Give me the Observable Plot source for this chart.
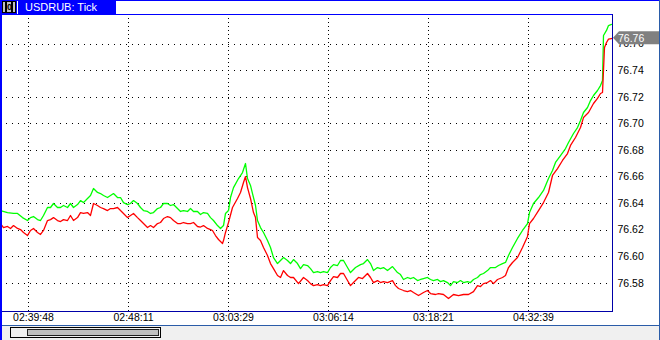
<!DOCTYPE html>
<html>
<head>
<meta charset="utf-8">
<script src="https://cdn.jsdelivr.net/npm/d3@7"></script>
<script src="https://cdn.jsdelivr.net/npm/@observablehq/plot@0.6"></script>
<style>
  html, body { margin: 0; padding: 0; background: #fff; }
  #wrap { position: relative; width: 660px; height: 340px; background: #fff; overflow: hidden; font-family: "Liberation Sans", Arial, sans-serif; }
  #chart { position: absolute; left: 0; top: 0; }
  .abs { position: absolute; box-sizing: border-box; }
  #chart svg [aria-label="y-grid"] line, #chart svg [aria-label="x-grid"] line, #chart svg [aria-label="frame"] { shape-rendering: crispEdges; }
</style>
</head>
<body>
<div id="wrap">
  <div id="chart"></div>
  <!-- title strip -->
  <div class="abs" style="left:0;top:0;width:660px;height:1px;background:#0000ff"></div>
  <div class="abs" style="left:0;top:0;width:116px;height:14px;background:#0000ff"></div>
  <div class="abs" style="left:2px;top:1px;width:14px;height:12px;background:#c0c0c0;border:1px solid #000"></div>
  <div class="abs" style="left:5px;top:2px;width:8px;height:10px;background:#c0c0c0;border-left:2px solid #000;border-right:2px solid #000;font:bold 9px 'Liberation Sans',Arial,sans-serif;line-height:10px;text-align:center;color:#000">0</div>
  <div class="abs" style="left:17px;top:1px;width:1px;height:13px;background:#fff"></div>
  <div class="abs" id="title" style="left:25px;top:0px;height:14px;line-height:14px;color:#fff;font-size:11px">USDRUB: Tick</div>
  <!-- outer borders -->
  <div class="abs" style="left:0;top:0;width:2px;height:340px;background:#0000ff"></div>
  <div class="abs" style="left:659px;top:0;width:1px;height:340px;background:#2a5ca8"></div>
  <!-- bottom panel with scrollbar -->
  <div class="abs" style="left:2px;top:325px;width:657px;height:15px;background:#f0f0f0;border-top:1px solid #2a5ca8"></div>
  <div class="abs" style="left:10px;top:327px;width:151px;height:11px;background:#f0f0f0;border:1px solid #000"></div>
  <div class="abs" style="left:27px;top:329px;width:132px;height:7px;background:#c0c0c0;border:1px solid #202020"></div>
</div>
<script>
// ---- data ----
const timeLabels = ["02:39:48", "02:48:11", "03:03:29", "03:06:14", "03:18:21", "04:32:39"];
const tickIdx = [28, 128, 228, 328, 428, 528];
const yTicks = [76.58, 76.60, 76.62, 76.64, 76.66, 76.68, 76.70, 76.72, 76.74, 76.76];
const yDomain = [76.5587, 76.7823];
const xDomain = [0, 612];

const askIdx = [0,7,13,17,22,27,30,33,37,40,43,47,50,53,57,60,63,67,70,73,77,80,83,87,90,93,97,100,103,107,110,113,117,120,123,127,130,133,137,140,143,147,150,153,157,160,163,167,170,173,177,180,183,187,190,193,197,200,203,207,210,213,217,220,223,225,228,230,233,238,242,245,247,250,252,255,257,260,263,267,270,273,277,280,283,287,290,293,297,300,303,307,310,313,317,320,323,327,330,333,337,340,343,347,350,355,360,363,367,370,373,377,380,383,387,392,397,400,403,407,410,413,417,420,423,427,430,433,437,440,443,447,450,453,457,460,463,467,470,473,477,480,483,487,490,495,498,502,505,508,512,517,522,527,529,533,538,543,548,552,555,560,565,568,573,577,580,583,587,590,593,597,600,602,603,606,608,611];
const askVal = [76.6347,76.6332,76.6325,76.6325,76.6294,76.6272,76.6294,76.6302,76.6279,76.6272,76.6310,76.6370,76.6370,76.6400,76.6370,76.6370,76.6385,76.6370,76.6400,76.6370,76.6392,76.6422,76.6407,76.6438,76.6460,76.6513,76.6483,76.6475,76.6460,76.6445,76.6460,76.6475,76.6445,76.6445,76.6407,76.6392,76.6400,76.6422,76.6400,76.6370,76.6347,76.6340,76.6325,76.6332,76.6362,76.6370,76.6400,76.6400,76.6385,76.6392,76.6362,76.6340,76.6347,76.6340,76.6362,76.6340,76.6340,76.6317,76.6332,76.6325,76.6294,76.6272,76.6234,76.6212,76.6234,76.6325,76.6347,76.6445,76.6520,76.6588,76.6633,76.6701,76.6588,76.6536,76.6475,76.6385,76.6272,76.6219,76.6182,76.6121,76.6069,76.5993,76.5948,76.5971,76.5993,76.5971,76.5948,76.5978,76.5948,76.5910,76.5940,76.5933,76.5910,76.5880,76.5888,76.5880,76.5888,76.5880,76.5918,76.5940,76.5933,76.5971,76.5971,76.5918,76.5880,76.5918,76.5940,76.5948,76.5978,76.5948,76.5895,76.5918,76.5910,76.5918,76.5895,76.5925,76.5880,76.5865,76.5828,76.5843,76.5835,76.5843,76.5820,76.5828,76.5835,76.5843,76.5828,76.5820,76.5828,76.5812,76.5820,76.5805,76.5782,76.5812,76.5805,76.5820,76.5805,76.5812,76.5805,76.5828,76.5843,76.5865,76.5873,76.5895,76.5918,76.5918,76.5933,76.5948,76.5956,76.6008,76.6069,76.6137,76.6197,76.6249,76.6332,76.6400,76.6445,76.6498,76.6588,76.6648,76.6709,76.6761,76.6814,76.6859,76.6927,76.6972,76.7025,76.7085,76.7123,76.7175,76.7213,76.7251,76.7288,76.7326,76.7665,76.7703,76.7740,76.7748];

const bidIdx = [0,3,7,10,13,17,20,23,27,30,33,37,40,43,47,50,53,57,60,63,67,70,73,77,80,83,87,90,93,97,100,103,107,110,113,117,120,123,127,130,133,137,140,143,147,150,153,157,160,163,167,170,173,177,180,183,187,190,193,197,200,203,207,210,212,215,218,220,222,223,225,228,232,237,240,243,245,247,250,253,255,257,260,263,267,270,273,277,280,283,287,290,293,298,303,307,310,313,317,320,323,327,330,333,337,340,343,347,350,353,358,362,367,370,373,377,380,383,387,392,395,398,403,407,410,413,418,423,427,430,435,438,443,448,453,458,463,468,473,477,480,483,487,490,493,497,502,505,508,512,517,522,527,529,533,538,543,548,552,557,562,567,570,575,580,583,588,593,597,600,602,604,606,608,612];
const bidVal = [76.6249,76.6219,76.6227,76.6212,76.6234,76.6212,76.6204,76.6182,76.6159,76.6197,76.6212,76.6182,76.6167,76.6197,76.6272,76.6279,76.6294,76.6272,76.6264,76.6279,76.6272,76.6310,76.6272,76.6294,76.6332,76.6325,76.6332,76.6310,76.6400,76.6385,76.6370,76.6362,76.6347,76.6362,76.6362,76.6370,76.6347,76.6325,76.6294,76.6310,76.6325,76.6294,76.6272,76.6249,76.6219,76.6234,76.6219,76.6249,76.6257,76.6287,76.6302,76.6294,76.6272,76.6249,76.6249,76.6257,76.6249,76.6249,76.6257,76.6227,76.6223,76.6234,76.6212,76.6204,76.6197,76.6159,76.6129,76.6114,76.6099,76.6121,76.6182,76.6257,76.6370,76.6438,76.6483,76.6558,76.6603,76.6520,76.6438,76.6332,76.6294,76.6144,76.6121,76.6069,76.6008,76.5948,76.5910,76.5858,76.5843,76.5895,76.5858,76.5843,76.5843,76.5797,76.5843,76.5820,76.5797,76.5782,76.5790,76.5782,76.5790,76.5782,76.5820,76.5850,76.5843,76.5873,76.5873,76.5820,76.5782,76.5805,76.5843,76.5835,76.5873,76.5843,76.5805,76.5820,76.5805,76.5812,76.5805,76.5820,76.5782,76.5760,76.5745,76.5737,76.5745,76.5730,76.5707,76.5730,76.5745,76.5722,76.5715,76.5722,76.5715,76.5685,76.5715,76.5707,76.5715,76.5715,76.5737,76.5782,76.5775,76.5797,76.5805,76.5820,76.5797,76.5828,76.5843,76.5858,76.5918,76.5956,76.5993,76.6069,76.6152,76.6249,76.6287,76.6347,76.6407,76.6483,76.6611,76.6663,76.6724,76.6776,76.6837,76.6897,76.6972,76.7047,76.7085,76.7153,76.7191,76.7228,76.7236,76.7575,76.7612,76.7638,76.7644];

// ---- build ----
const ask = askIdx.map((i, k) => ({i, v: askVal[k]}));
const bid = bidIdx.map((i, k) => ({i, v: bidVal[k]}));
const lastBid = bidVal[bidVal.length - 1];

const plot = Plot.plot({
  width: 660,
  height: 326,
  marginTop: 14,
  marginBottom: 15,
  marginLeft: 0,
  marginRight: 48,
  style: {fontFamily: "'Liberation Sans', Arial, sans-serif", fontSize: "10.5px", background: "transparent", color: "#000", overflow: "visible"},
  x: {domain: xDomain},
  y: {domain: yDomain},
  marks: [
    Plot.gridY(yTicks, {stroke: "#000", strokeOpacity: 1, strokeDasharray: "1,5"}),
    Plot.gridX(tickIdx, {stroke: "#000", strokeOpacity: 1, strokeDasharray: "1,3"}),
    Plot.line(ask, {x: "i", y: "v", stroke: "#00ff00", curve: "linear", strokeWidth: 1.3}),
    Plot.line(bid, {x: "i", y: "v", stroke: "#ff0000", curve: "linear", strokeWidth: 1.3}),
    Plot.axisY({anchor: "right", ticks: yTicks, tickSize: 0, tickPadding: 5, tickFormat: d => d.toFixed(2), label: null, fill: "#000"}),
    Plot.axisX({anchor: "bottom", ticks: tickIdx, tickSize: 0, tickPadding: 2, tickFormat: d => timeLabels[tickIdx.indexOf(d)], dx: 5, label: null, fill: "#000"}),
    Plot.frame({anchor: "top", stroke: "#0000ff", strokeOpacity: 1}),
    Plot.frame({anchor: "right", stroke: "#0000a8", strokeOpacity: 1}),
    Plot.frame({anchor: "bottom", stroke: "#0000a8", strokeOpacity: 1})
  ]
});
document.getElementById("chart").appendChild(plot);

// current price tag, positioned through the plot's y scale
const yPix = plot.scale("y").apply(lastBid);
const xRight = plot.scale("x").apply(xDomain[1]);
const svg = d3.select(plot);
const g = svg.append("g").attr("text-anchor", "start");
const h = 6.5;
g.append("path")
  .attr("d", `M${xRight + 1},${yPix} L${xRight + 7},${yPix - h} L659,${yPix - h} L659,${yPix + h} L${xRight + 7},${yPix + h} Z`)
  .attr("fill", "#808080");
g.append("text")
  .attr("x", xRight + 6)
  .attr("y", yPix)
  .attr("dy", "0.36em")
  .attr("fill", "#fff")
  .attr("font-size", "10.5px")
  .text(lastBid.toFixed(2));
</script>
</body>
</html>
